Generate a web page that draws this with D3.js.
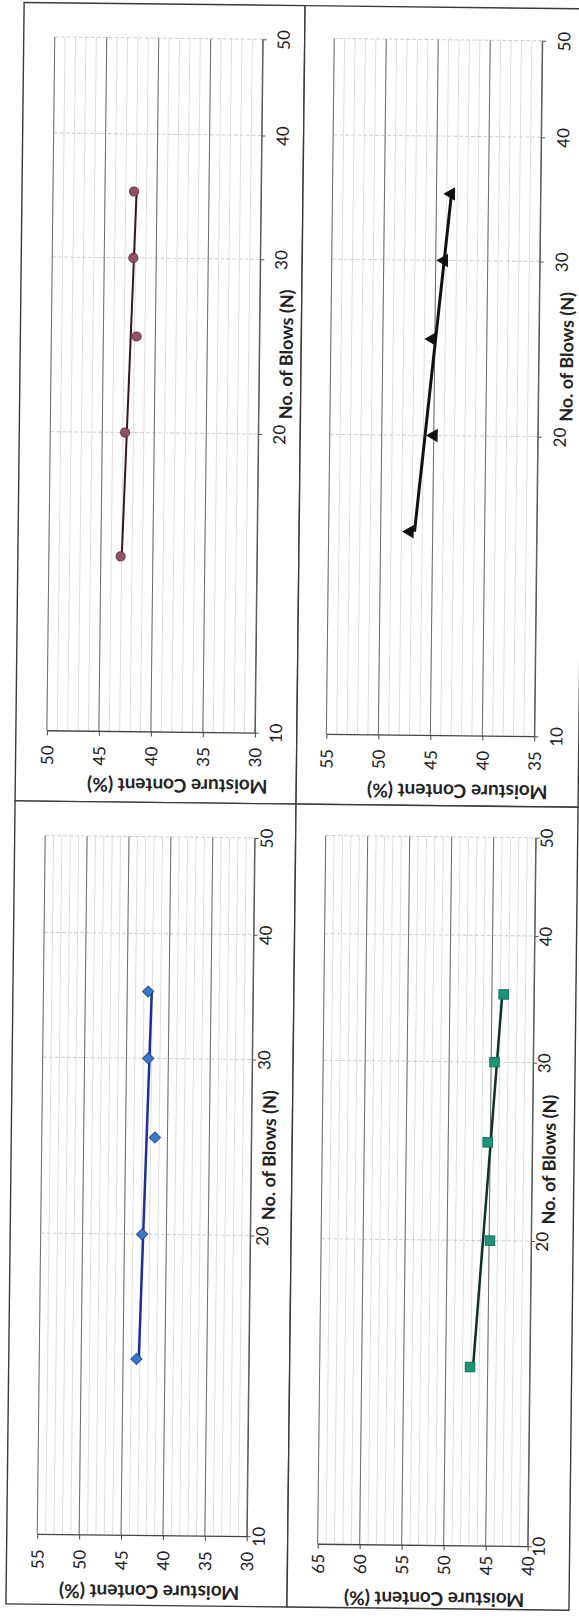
<!DOCTYPE html>
<html><head><meta charset="utf-8">
<script src="https://cdn.jsdelivr.net/npm/d3@7"></script>
<style>body{margin:0;background:#fff} svg{display:block}</style>
</head><body><svg id="c" width="579" height="1618"></svg>
<script>
// ---- data ----
const blowTicks = [10, 20, 30, 40, 50];
const blowsRed = [15, 20, 25, 30, 35];
const moistRed = [43.1, 42.8, 41.8, 42.2, 42.2];
const blowsBlack = [16, 20, 25, 30, 35];
const moistBlack = [47.2, 45.0, 45.25, 44.2, 43.6];
const blowsBlue = [15, 20, 25, 30, 35];
const moistBlue = [43.4, 42.9, 41.5, 42.4, 42.5];
const blowsGreen = [15, 20, 25, 30, 35];
const moistGreen = [47.1, 44.9, 45.3, 44.6, 43.6];
const moistTicksRed = [30, 35, 40, 45, 50];
const moistTicksBlack = [35, 40, 45, 50, 55];
const moistTicksBlue = [30, 35, 40, 45, 50, 55];
const moistTicksGreen = [40, 45, 50, 55, 60, 65];
const xTitle = "No. of Blows (N)";
const yTitle = "Moisture Content (%)";

// ---- layout / style ----
const panels = [
  {blows: blowsRed, moist: moistRed, ticks: moistTicksRed, frame: [15, 5.5, 296, 804],
   xr: [46, 254], yr: [733, 39.6], lab: 21, mlab: 25, tcx: 177, tdy: 54,
   sym: d3.symbolCircle, size: 66, rot: 0, fill: "#93506A", stroke: "#6A2F45", line: "#3b1422", lw: 2},
  {blows: blowsBlack, moist: moistBlack, ticks: moistTicksBlack, frame: [296, 5.5, 578, 804],
   xr: [325.5, 533.5], yr: [733.4, 38], lab: 22, mlab: 25, tcx: 457, tdy: 56,
   sym: d3.symbolTriangle, size: 60, rot: -90, fill: "#111", stroke: "#111", line: "#111", lw: 3},
  {blows: blowsBlue, moist: moistBlue, ticks: moistTicksBlue, frame: [15, 804, 296, 1607],
   xr: [45.5, 255], yr: [1536.6, 838.3], lab: 12, mlab: 25.5, tcx: 158, tdy: 57,
   sym: d3.symbolSquare, size: 62, rot: 45, fill: "#3C78C8", stroke: "#1F4FA0", line: "#1C2F9E", lw: 2.5},
  {blows: blowsGreen, moist: moistGreen, ticks: moistTicksGreen, frame: [296, 804, 578, 1607],
   xr: [326, 536], yr: [1543.4, 835], lab: 11, mlab: 20, tcx: 443, tdy: 54,
   sym: d3.symbolSquare, size: 90, rot: 0, fill: "#1B9478", stroke: "#12705A", line: "#0B3326", lw: 2.5}
];

const FONT = "Lato, 'Open Sans', 'DejaVu Sans', sans-serif";
const svg = d3.select("#c");
svg.append("rect").attr("width", 579).attr("height", 1618).attr("fill", "#fff");
const root = svg.append("g").attr("transform", "rotate(0.65 289.5 809)");

panels.forEach(p => {
  const g = root.append("g");
  const f = p.frame;
  const lo = d3.min(p.ticks), hi = d3.max(p.ticks);
  const mx = d3.scaleLinear().domain([hi, lo]).range(p.xr);
  const ny = d3.scaleLog().domain([10, 50]).range(p.yr);

  g.append("rect").attr("x", f[0]).attr("y", f[1]).attr("width", f[2] - f[0]).attr("height", f[3] - f[1])
    .attr("fill", "#fff").attr("stroke", "#3a3a3a").attr("stroke-width", 1.4);

  // minor vertical gridlines (every 1 %)
  g.append("g").selectAll("line").data(d3.range(lo, hi + 0.001, 1)).join("line")
    .attr("x1", d => mx(d)).attr("x2", d => mx(d)).attr("y1", p.yr[0]).attr("y2", p.yr[1])
    .attr("stroke", "#d4d4d4").attr("stroke-width", 0.8);
  // horizontal gridlines at blow ticks
  g.append("g").selectAll("line").data(blowTicks.slice(1)).join("line")
    .attr("x1", p.xr[0]).attr("x2", p.xr[1]).attr("y1", d => ny(d)).attr("y2", d => ny(d))
    .attr("stroke", "#c8c8c8").attr("stroke-width", 0.9).attr("stroke-dasharray", "4,2");
  // major vertical gridlines
  g.append("g").selectAll("line").data(p.ticks).join("line")
    .attr("x1", d => mx(d)).attr("x2", d => mx(d)).attr("y1", p.yr[0]).attr("y2", p.yr[1])
    .attr("stroke", "#6e6e6e").attr("stroke-width", 1);

  // moisture axis (drawn along the bottom)
  const ax = g.append("g").attr("transform", `translate(0,${p.yr[0]})`)
    .call(d3.axisBottom(mx).tickValues(p.ticks).tickSize(5).tickSizeOuter(0).tickFormat(d3.format("d")));
  ax.select(".domain").attr("stroke", "#444").attr("stroke-width", 1.3);
  ax.selectAll(".tick line").attr("stroke", "#444");
  ax.selectAll(".tick text").attr("y", 0).attr("dy", "0.36em")
    .attr("transform", `translate(0,${p.mlab}) rotate(-90)`).attr("text-anchor", "middle")
    .attr("font-family", FONT).attr("font-size", 17).attr("fill", "#222");

  // blows axis (drawn along the right)
  const ay = g.append("g").attr("transform", `translate(${p.xr[1]},0)`)
    .call(d3.axisRight(ny).tickValues(blowTicks).tickSize(4).tickSizeOuter(0).tickFormat(d3.format("d")));
  ay.select(".domain").attr("stroke", "#555").attr("stroke-width", 1);
  ay.selectAll(".tick line").attr("stroke", "#555");
  ay.selectAll(".tick text").attr("x", 0).attr("dy", "0.36em")
    .attr("transform", `translate(${p.lab},0) rotate(-90)`).attr("text-anchor", "middle")
    .attr("font-family", FONT).attr("font-size", 17).attr("fill", "#222");

  // titles
  const ty = p.yr[0] - 0.546 * (p.yr[0] - p.yr[1]);
  g.append("text").attr("transform", `translate(${p.xr[1] + p.lab + 6},${ty}) rotate(-90)`)
    .attr("dy", "0.36em").attr("text-anchor", "middle").attr("font-family", FONT)
    .attr("font-weight", "bold").attr("font-size", 18).attr("fill", "#222").text(xTitle);
  g.append("text").attr("transform", `translate(${p.tcx},${p.yr[0] + p.tdy}) rotate(180)`)
    .attr("dy", "0.36em").attr("text-anchor", "middle").attr("font-family", FONT)
    .attr("font-weight", "bold").attr("font-size", 19).attr("fill", "#222").text(yTitle);

  // log trendline
  const pts = p.blows.map((b, i) => ({n: b, m: p.moist[i]}));
  const lx = pts.map(d => Math.log10(d.n)), mxm = d3.mean(lx), mym = d3.mean(pts, d => d.m);
  const slope = d3.sum(pts, (d, i) => (lx[i] - mxm) * (d.m - mym)) / d3.sum(lx, v => (v - mxm) ** 2);
  const icpt = mym - slope * mxm;
  const ends = d3.extent(p.blows).map(n => ({n, m: icpt + slope * Math.log10(n)}));
  g.append("path").datum(ends).attr("fill", "none").attr("stroke", p.line).attr("stroke-width", p.lw)
    .attr("d", d3.line().x(d => mx(d.m)).y(d => ny(d.n)));

  // markers
  g.append("g").selectAll("path").data(pts).join("path")
    .attr("transform", d => `translate(${mx(d.m)},${ny(d.n)}) rotate(${p.rot})`)
    .attr("d", d3.symbol().type(p.sym).size(p.size))
    .attr("fill", p.fill).attr("stroke", p.stroke).attr("stroke-width", 1);
});
</script>
</body></html>
